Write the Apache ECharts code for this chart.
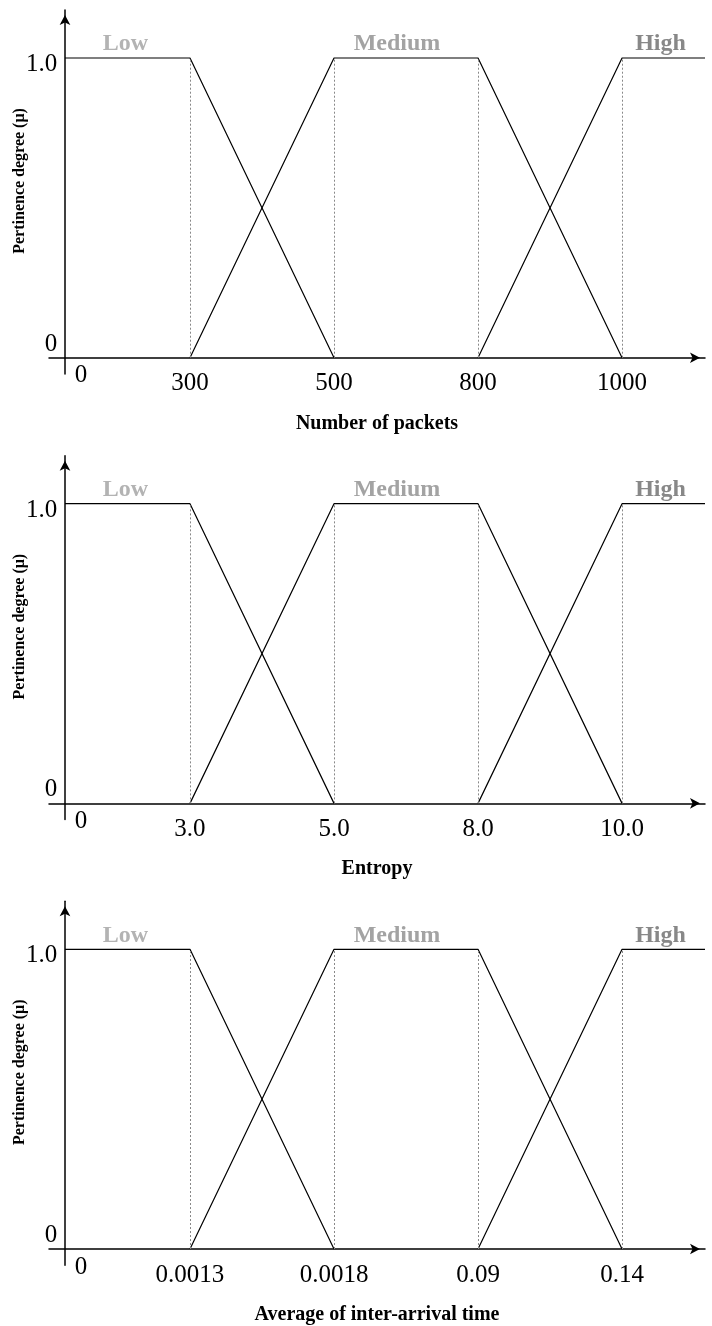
<!DOCTYPE html>
<html><head><meta charset="utf-8">
<script src="https://cdn.jsdelivr.net/npm/echarts@6/dist/echarts.min.js"></script>
<style>html,body{margin:0;padding:0;background:#fff}#c{width:712px;height:1326px}</style>
</head><body><div id="c"></div>
<script>
// ---- data ----
const setNames = ['Low', 'Medium', 'High'];
const axisTitles = ['Number of packets', 'Entropy', 'Average of inter-arrival time'];
const breakpointsPackets = ['300', '500', '800', '1000'];
const breakpointsEntropy = ['3.0', '5.0', '8.0', '10.0'];
const breakpointsIAT = ['0.0013', '0.0018', '0.09', '0.14'];
const originLabel = '0';
const yTickValues = [0, 1];
const yTickLabels = ['0', '1.0'];
// membership degree at: [origin, bp1, bp2, bp3, bp4, axis end]; null = not in set
const muLow    = [1, 1, 0, null, null, null];
const muMedium = [null, 0, 1, 1, 0, null];
const muHigh   = [null, null, null, 0, 1, 1];

// ---- layout (schematic axis: breakpoints equally spaced, not to scale) ----
const FONT = "'Liberation Serif','Times New Roman',serif";
const FIRST = 0.868;        // gap origin -> first breakpoint (in breakpoint steps)
const XMIN = -0.111, XMAX = 4.444;
const YMIN = -0.054, YMAX = 1.16;
const setColors = ['#a0a0a0', '#8c8c8c', '#6a6a6a'];
const nameDx = [-2, -9, -3];

const panels = [breakpointsPackets, breakpointsEntropy, breakpointsIAT];
const xs = [0, FIRST, FIRST + 1, FIRST + 2, FIRST + 3, XMAX];
const bpPos = [FIRST, FIRST + 1, FIRST + 2, FIRST + 3];

const grids = [], xAxes = [], yAxes = [], series = [];
panels.forEach((bps, p) => {
  grids.push({ left: 49, width: 656, top: 10.05 + 445.65 * p, height: 363.85, outerBoundsMode: 'none', containLabel: false });
  const labelMap = {};
  labelMap[0] = originLabel;
  bpPos.forEach((x, i) => labelMap[x] = bps[i]);
  xAxes.push({
    gridIndex: p, type: 'value', min: XMIN, max: XMAX,
    name: axisTitles[p], nameLocation: 'middle', nameGap: 49.5, nameMoveOverlap: false,
    nameTextStyle: { fontFamily: FONT, fontWeight: 'bold', fontSize: 20, color: '#000', verticalAlign: 'middle' },
    axisLine: { onZero: true, lineStyle: { color: '#000', width: 1.5 }, symbol: ['none', 'arrow'], symbolSize: [8, 10], symbolOffset: [0, -5] },
    axisTick: { show: false }, splitLine: { show: false },
    axisLabel: {
      customValues: [0].concat(bpPos), margin: 10, verticalAlign: 'middle',
      fontFamily: FONT, fontSize: 25, color: '#000',
      formatter: v => v === 0 ? '{o|' + originLabel + '}' : labelMap[v],
      rich: { o: { fontFamily: FONT, fontSize: 25, color: '#000', padding: [0, 0, 16, 32] } }
    }
  });
  yAxes.push({
    gridIndex: p, type: 'value', min: YMIN, max: YMAX,
    name: 'Pertinence degree (μ)', nameLocation: 'middle', nameGap: 29.5, nameMoveOverlap: false,
    nameTextStyle: { fontFamily: FONT, fontWeight: 'bold', fontSize: 16, color: '#000', verticalAlign: 'middle', padding: [0, 0, 0, 22] },
    axisLine: { onZero: true, lineStyle: { color: '#000', width: 1.5 }, symbol: ['none', 'arrow'], symbolSize: [8, 10], symbolOffset: [0, -5] },
    axisTick: { show: false }, splitLine: { show: false },
    axisLabel: {
      customValues: yTickValues, margin: -8.3, verticalAlign: 'middle',
      fontFamily: FONT, fontSize: 25, color: '#000',
      formatter: v => v === 0 ? '{z|' + yTickLabels[0] + '}' : '{u|' + yTickLabels[1] + '}',
      rich: {
        z: { fontFamily: FONT, fontSize: 25, color: '#000', padding: [0, 0, 27, 0] },
        u: { fontFamily: FONT, fontSize: 25, color: '#000', padding: [13, 0, 0, 0] }
      }
    }
  });
  // dotted guides at breakpoints
  series.push({
    type: 'line', xAxisIndex: p, yAxisIndex: p, data: [], silent: true,
    markLine: {
      silent: true, symbol: 'none', label: { show: false },
      lineStyle: { color: '#888', width: 1, type: [2, 2] },
      data: bpPos.map(x => [{ coord: [x, 0] }, { coord: [x, 1] }])
    }
  });
  [muLow, muMedium, muHigh].forEach((mu, k) => {
    series.push({
      type: 'line', xAxisIndex: p, yAxisIndex: p, symbol: 'none', silent: true,
      lineStyle: { color: '#000', width: 1.2 }, z: 3,
      data: xs.map((x, i) => mu[i] == null ? null : [x, mu[i]]).filter(d => d)
    });
  });
  // set names
  const mids = [(0 + FIRST) / 2, (bpPos[1] + bpPos[2]) / 2, (bpPos[3] + XMAX) / 2];
  series.push({
    type: 'scatter', xAxisIndex: p, yAxisIndex: p, symbolSize: 0, silent: true,
    data: setNames.map((n, k) => ({
      name: n, value: [mids[k], 1],
      label: { show: true, position: 'inside', offset: [nameDx[k], -14], formatter: n,
        fontFamily: FONT, fontWeight: 'bold', fontSize: 24, color: setColors[k] }
    }))
  });
});

const chart = echarts.init(document.getElementById('c'), null, { renderer: 'canvas' });
chart.setOption({ animation: false, backgroundColor: '#fff', grid: grids, xAxis: xAxes, yAxis: yAxes, series: series });
</script></body></html>
